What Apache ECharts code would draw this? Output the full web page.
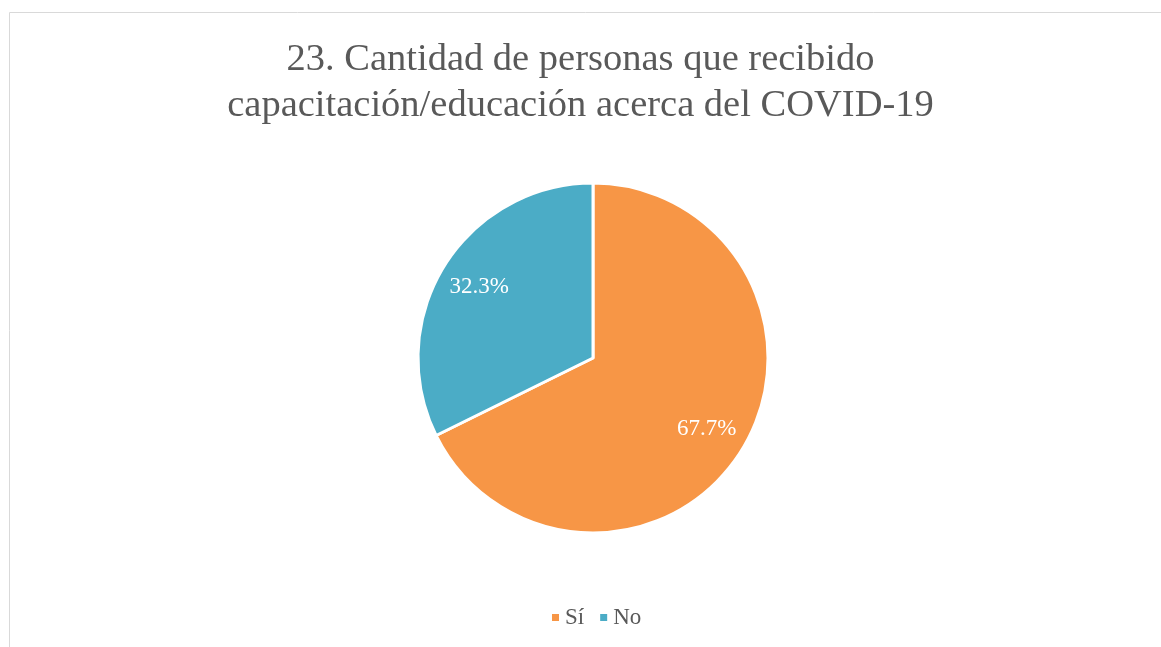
<!DOCTYPE html>
<html>
<head>
<meta charset="utf-8">
<script src="https://cdn.jsdelivr.net/npm/echarts@6/dist/echarts.min.js"></script>
<style>
	html, body { margin: 0; padding: 0; background: #fff; }
	#chart { width: 1161px; height: 647px; }
</style>
</head>
<body>
<div id="chart"></div>
<script>
	// data
	var categories = ['Sí', 'No'];
	var values = [67.7, 32.3];
	var colors = ['#F79646', '#4BACC6'];

	var titleText = '23. Cantidad de personas que recibido\ncapacitación/educación acerca del COVID-19';

	var pieData = categories.map(function (name, i) {
		return { name: name, value: values[i], itemStyle: { color: colors[i] } };
	});

	var chart = echarts.init(document.getElementById('chart'));
	chart.setOption({
		animation: false,
		graphic: [{
			type: 'rect',
			shape: { x: 9.5, y: 12.5, width: 1200, height: 700 },
			style: { fill: 'none', stroke: '#d9d9d9', lineWidth: 1 },
			silent: true
		}],
		title: {
			text: titleText,
			left: 'center',
			top: 32,
			textStyle: {
				fontFamily: 'Liberation Serif',
				fontWeight: 'normal',
				fontSize: 38.5,
				lineHeight: 46,
				color: '#595959'
			}
		},
		legend: {
			data: categories,
			bottom: 13,
			left: 545,
			icon: 'rect',
			itemWidth: 9,
			itemHeight: 9,
			itemGap: 14,
			textStyle: {
				fontFamily: 'Liberation Serif',
				fontSize: 23,
				color: '#595959'
			}
		},
		series: [{
			type: 'pie',
			center: [593, 358],
			radius: [0, 175],
			startAngle: 90,
			clockwise: true,
			label: { show: false },
			labelLine: { show: false },
			itemStyle: { borderColor: '#fff', borderWidth: 3 },
			data: pieData
		}, {
			// invisible ring, only to place the percentage labels at 3/4 radius
			type: 'pie',
			center: [593, 358],
			radius: [87, 175],
			startAngle: 90,
			clockwise: true,
			silent: true,
			itemStyle: { color: 'rgba(0,0,0,0)', borderWidth: 0 },
			label: {
				show: true,
				position: 'inside',
				formatter: function (p) { return p.value.toFixed(1) + '%'; },
				fontFamily: 'Liberation Serif',
				fontSize: 23,
				color: '#fff'
			},
			labelLine: { show: false },
			data: categories.map(function (name, i) { return { name: name, value: values[i] }; })
		}]
	});
</script>
</body>
</html>
